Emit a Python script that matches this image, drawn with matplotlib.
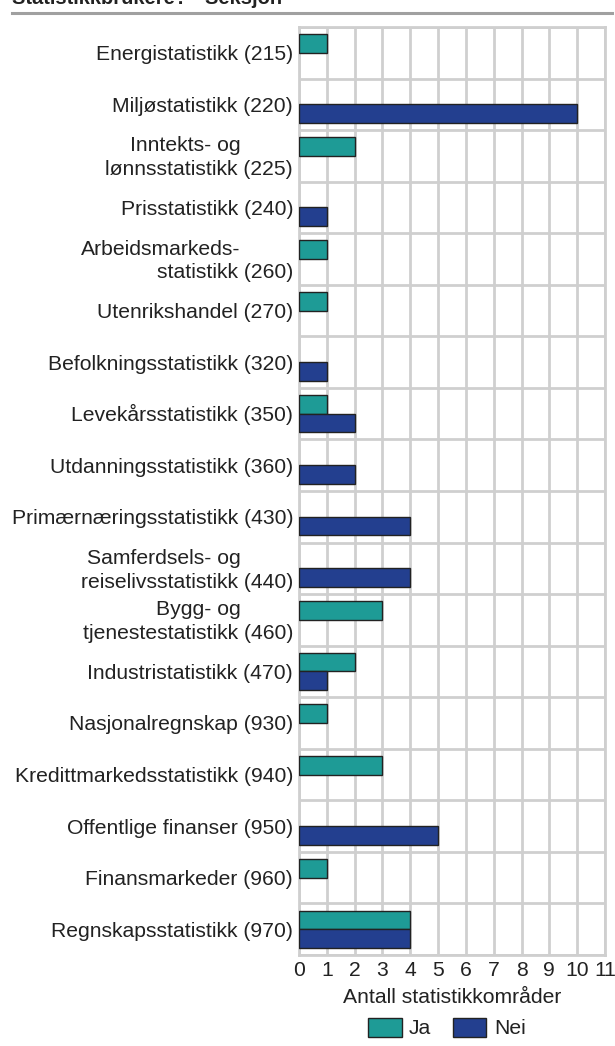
import matplotlib
matplotlib.use("Agg")
import matplotlib.pyplot as plt
from matplotlib.lines import Line2D
from matplotlib.patches import Patch
import numpy as np

plt.rcParams['font.family'] = ['Liberation Sans', 'DejaVu Sans']

categories = [
    ["Energistatistikk (215)"],
    ["Miljøstatistikk (220)"],
    ["Inntekts- og", "lønnsstatistikk (225)"],
    ["Prisstatistikk (240)"],
    ["Arbeidsmarkeds-", "statistikk (260)"],
    ["Utenrikshandel (270)"],
    ["Befolkningsstatistikk (320)"],
    ["Levekårsstatistikk (350)"],
    ["Utdanningsstatistikk (360)"],
    ["Primærnæringsstatistikk (430)"],
    ["Samferdsels- og", "reiselivsstatistikk (440)"],
    ["Bygg- og", "tjenestestatistikk (460)"],
    ["Industristatistikk (470)"],
    ["Nasjonalregnskap (930)"],
    ["Kredittmarkedsstatistikk (940)"],
    ["Offentlige finanser (950)"],
    ["Finansmarkeder (960)"],
    ["Regnskapsstatistikk (970)"],
]
ja = [1, 0, 2, 0, 1, 1, 0, 1, 0, 0, 0, 3, 2, 1, 3, 0, 1, 4]
nei = [0, 10, 0, 1, 0, 0, 1, 2, 2, 4, 4, 0, 1, 0, 0, 5, 0, 4]
series_names = ["Ja", "Nei"]
x_ticks = list(range(0, 12))
x_label = "Antall statistikkområder"
title = "Statistikkbrukere? - Seksjon"

col_ja = "#1e9b96"
col_nei = "#233f8f"
grid_col = "#cfcfcf"

W, H = 615, 1046
fig = plt.figure(figsize=(W / 100, H / 100), dpi=100)
left, right, top, bottom = 299, 605, 27, 955
ax = fig.add_axes([left / W, 1 - bottom / H, (right - left) / W, (bottom - top) / H])

n = len(categories)
y = np.arange(n)
bh = 0.36
for i in range(n):
    if ja[i] > 0:
        ax.barh(y[i] - bh / 2, ja[i], height=bh, color=col_ja, edgecolor="#222222",
                linewidth=1.0, zorder=3)
    if nei[i] > 0:
        ax.barh(y[i] + bh / 2, nei[i], height=bh, color=col_nei, edgecolor="#222222",
                linewidth=1.0, zorder=3)

ax.set_xlim(0, 11)
ax.set_ylim(n - 0.5, -0.5)
ax.set_xticks(x_ticks)
ax.set_xticklabels([str(t) for t in x_ticks], fontsize=15.2, color="#222222")
ax.set_yticks(np.arange(n + 1) - 0.5, minor=False)
ax.set_yticklabels([])
ax.tick_params(axis='both', length=0)
ax.tick_params(axis='x', pad=4)
ax.grid(True, color=grid_col, linewidth=2.0, zorder=0)
ax.set_axisbelow(True)
for s in ax.spines.values():
    s.set_color(grid_col)
    s.set_linewidth(2.0)
ax.set_xlabel(x_label, fontsize=15.2, color="#222222", labelpad=6)

fs = 15.2
for i, lines in enumerate(categories):
    if len(lines) == 1:
        ax.annotate(lines[0], xy=(0, y[i]), xycoords=('axes fraction', 'data'),
                    xytext=(-4.3, -5.4), textcoords='offset points',
                    ha='right', va='baseline', fontsize=fs, color="#222222")
    else:
        ax.annotate(lines[0], xy=(0, y[i]), xycoords=('axes fraction', 'data'),
                    xytext=(-41.8, 3.2), textcoords='offset points',
                    ha='right', va='baseline', fontsize=fs, color="#222222")
        ax.annotate(lines[1], xy=(0, y[i]), xycoords=('axes fraction', 'data'),
                    xytext=(-4.3, -14.0), textcoords='offset points',
                    ha='right', va='baseline', fontsize=fs, color="#222222")

handles = [Patch(facecolor=col_ja, edgecolor="#222222", linewidth=1.0),
           Patch(facecolor=col_nei, edgecolor="#222222", linewidth=1.0)]
fig.legend(handles, series_names, loc='center', bbox_to_anchor=(447 / W, 1 - 1028 / H),
           ncol=2, frameon=False, fontsize=fs, handlelength=1.57, handleheight=1.0,
           handletextpad=0.35, columnspacing=1.05, borderpad=0, labelcolor="#222222")

fig.text(12 / W, 1 - 4 / H, title, ha='left', va='baseline', fontsize=14.5,
         fontweight='bold', color="#222222")
fig.add_artist(Line2D([12 / W, 612 / W], [1 - 12.5 / H, 1 - 12.5 / H],
                      transform=fig.transFigure, color="#a0a0a0", linewidth=2.2))

fig.savefig("out.png", dpi=100)
